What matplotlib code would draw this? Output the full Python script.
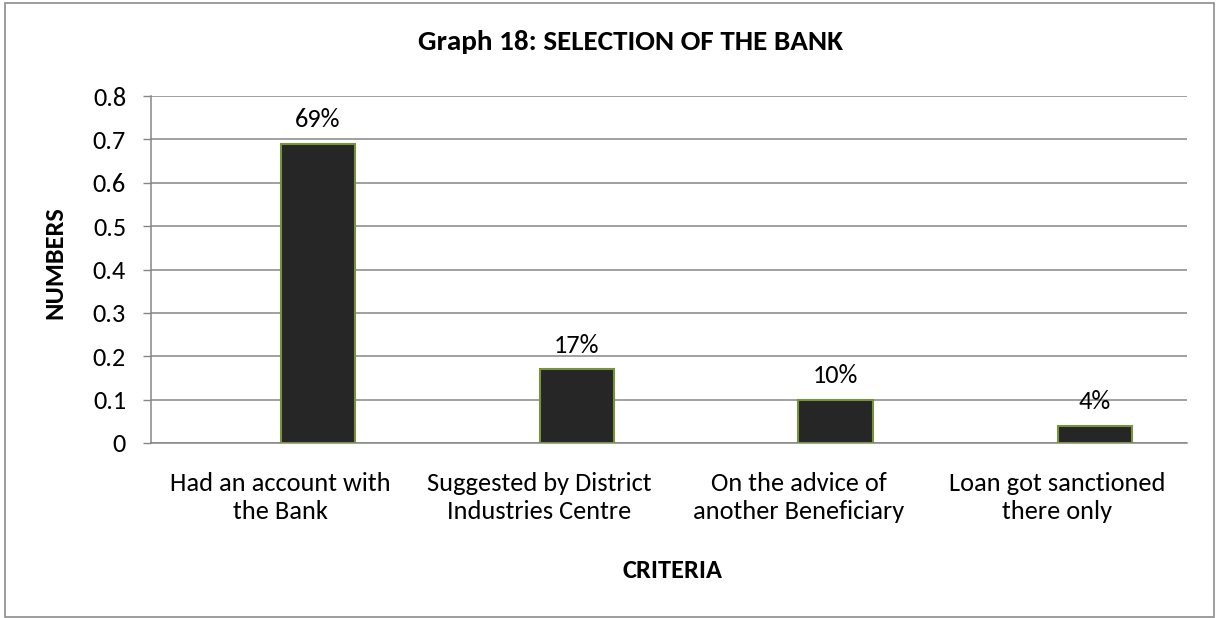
import matplotlib
matplotlib.use("Agg")
import matplotlib.pyplot as plt
from matplotlib.patches import Rectangle

plt.rcParams['font.family'] = ['Carlito', 'Lato', 'DejaVu Sans']

categories = ["Had an account with\nthe Bank",
              "Suggested by District\nIndustries Centre",
              "On the advice of\nanother Beneficiary",
              "Loan got sanctioned\nthere only"]
values = [0.69, 0.17, 0.10, 0.04]
value_labels = ["69%", "17%", "10%", "4%"]
y_ticks = [0, 0.1, 0.2, 0.3, 0.4, 0.5, 0.6, 0.7, 0.8]
y_tick_labels = ["0", "0.1", "0.2", "0.3", "0.4", "0.5", "0.6", "0.7", "0.8"]

W, H = 1216, 618
fig = plt.figure(figsize=(W / 100, H / 100), dpi=100)
ax = fig.add_axes([151 / W, 1 - 443 / H, (1187 - 151) / W, (443 - 96) / H])

grid_color = "#868686"
fs = 19
bar_w = 0.286
xs = [i + bar_w / 2 for i in range(len(values))]
bars = ax.bar(xs, values, width=bar_w, color="#262626",
              edgecolor="#77933C", linewidth=1.5, zorder=3)

for x, v, lab in zip(xs, values, value_labels):
    ax.annotate(lab, (x, v), xytext=(0, 12), textcoords="offset points",
                ha="center", va="baseline", fontsize=fs, color="black")

ax.set_xlim(-0.5, len(values) - 0.5)
ax.set_ylim(0, 0.8)
ax.set_yticks(y_ticks)
ax.set_yticklabels(y_tick_labels, fontsize=fs)
ax.set_xticks(range(len(categories)))
ax.set_xticklabels(categories, fontsize=fs, linespacing=1.24)
ax.tick_params(axis="x", length=0, pad=21)
ax.tick_params(axis="y", length=6, width=1, color=grid_color, pad=12)

ax.yaxis.grid(True, color=grid_color, linewidth=1.1, zorder=0)
ax.set_axisbelow(True)
for side in ("top", "right"):
    ax.spines[side].set_visible(False)
for side in ("left", "bottom"):
    ax.spines[side].set_color(grid_color)
    ax.spines[side].set_linewidth(1.1)

fig.text(631 / W, 1 - 50 / H, "Graph 18: SELECTION OF THE BANK",
         ha="center", va="baseline", fontsize=21, fontweight="bold")
fig.text(672 / W, 1 - 578 / H, "CRITERIA", ha="center", va="baseline",
         fontsize=fs, fontweight="bold")
fig.text(55 / W, 1 - 263 / H, "NUMBERS", ha="center", va="center",
         rotation=90, fontsize=fs, fontweight="bold")

fig.patches.append(Rectangle((5 / W, 1 / H), (1214 - 5) / W, (615 - 1) / H,
                             transform=fig.transFigure, fill=False,
                             edgecolor="#8c8c8c", linewidth=1.2))

fig.savefig("out.png", dpi=100)
